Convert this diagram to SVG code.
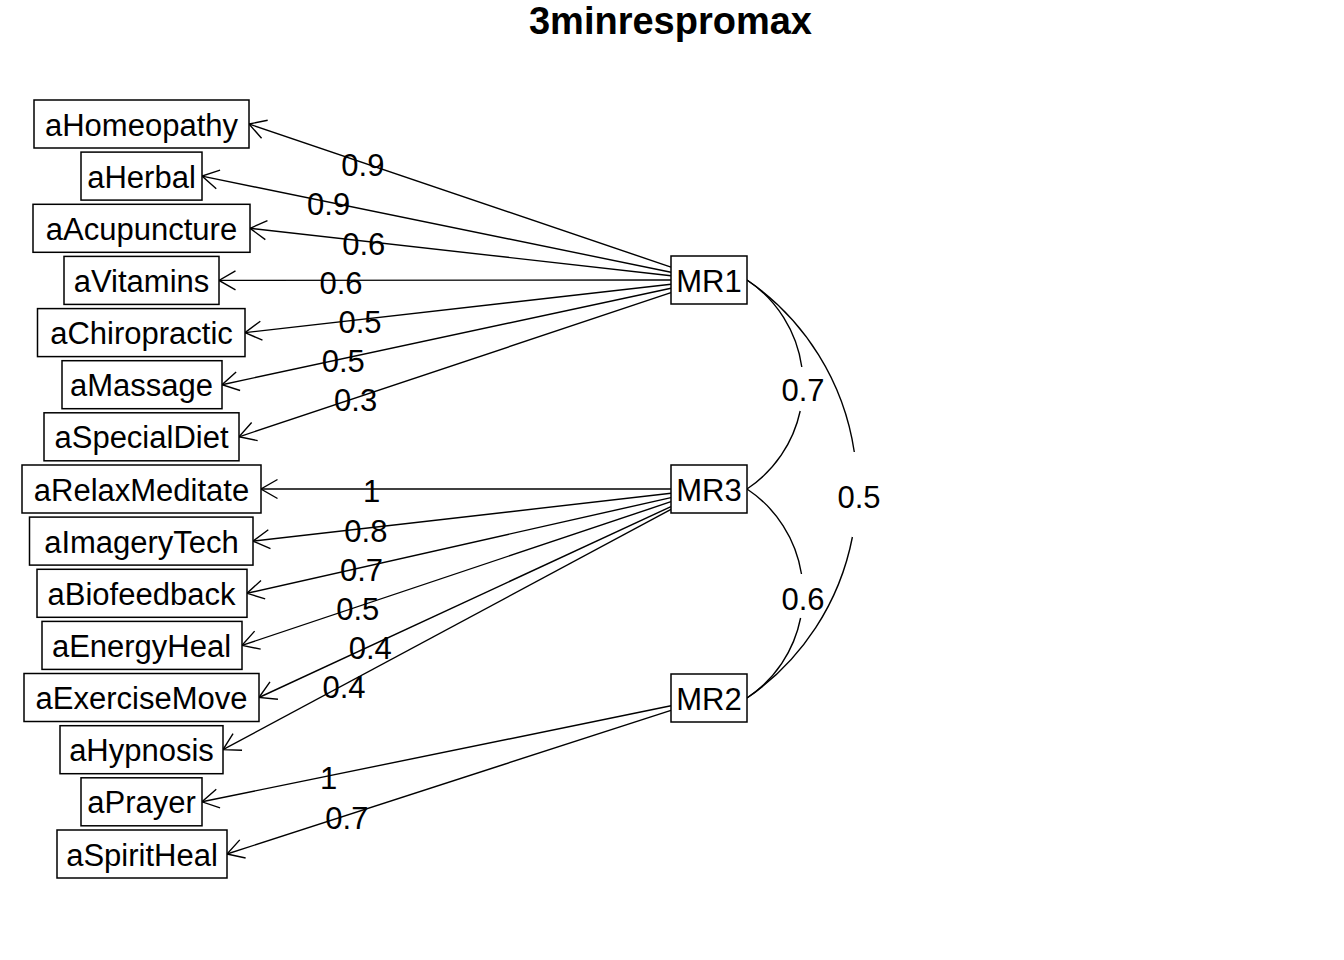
<svg xmlns="http://www.w3.org/2000/svg" width="1344" height="960" viewBox="0 0 1344 960">
<style>
text{font-family:"Liberation Sans",Arial,sans-serif;fill:#000}
.n{font-size:31px;text-anchor:middle}
.l{font-size:31px;text-anchor:middle}
.t{font-size:38px;font-weight:bold;text-anchor:middle}
rect{fill:#fff;stroke:#000;stroke-width:1.5}
.e line{stroke:#000;stroke-width:1.4;marker-end:url(#ah)}
.c path{fill:none;stroke:#000;stroke-width:1.4}
</style>
<defs>
<marker id="ah" viewBox="-20 -12 22 24" markerWidth="22" markerHeight="24" refX="0" refY="0" markerUnits="userSpaceOnUse" orient="auto">
<path d="M-16.5,-9.5 L0,0 L-16.5,9.5" fill="none" stroke="#000" stroke-width="1.4"/>
</marker>
</defs>
<rect x="0" y="0" width="1344" height="960" style="stroke:none"/>
<text class="t" x="670.5" y="34">3minrespromax</text>
<g id="edges" class="e">
<line x1="671" y1="267.1" x2="249" y2="124"/>
<line x1="671" y1="272.2" x2="202" y2="176.1"/>
<line x1="671" y1="275.7" x2="250" y2="228.3"/>
<line x1="671" y1="280" x2="219" y2="280.4"/>
<line x1="671" y1="284.3" x2="245" y2="332.6"/>
<line x1="671" y1="288.2" x2="222" y2="384.7"/>
<line x1="671" y1="292.7" x2="239" y2="436.8"/>
<line x1="671" y1="489" x2="261" y2="489"/>
<line x1="671" y1="493.3" x2="253" y2="541.1"/>
<line x1="671" y1="497.6" x2="247" y2="593.3"/>
<line x1="671" y1="501.7" x2="242" y2="645.4"/>
<line x1="671" y1="506.6" x2="259" y2="697.5"/>
<line x1="671" y1="509.4" x2="223" y2="749.7"/>
<line x1="671" y1="705.8" x2="202" y2="801.8"/>
<line x1="671" y1="710.3" x2="227" y2="854"/>
</g>
<g id="curves" class="c">
<path d="M747,280 A125.5,125.5 0 0 1 801.8,367 M800.2,411 A125.5,125.5 0 0 1 747,489"/>
<path d="M747,489 A125.5,125.5 0 0 1 801.5,574 M800.6,618 A125.5,125.5 0 0 1 747,698"/>
<path d="M747,280 A253.5,253.5 0 0 1 854.3,452 M852.4,537 A253.5,253.5 0 0 1 747,698"/>
</g>
<g id="labels">
<text class="l" x="362.9" y="176">0.9</text>
<text class="l" x="328.6" y="215.4">0.9</text>
<text class="l" x="363.7" y="254.5">0.6</text>
<text class="l" x="341" y="293.7">0.6</text>
<text class="l" x="360" y="333">0.5</text>
<text class="l" x="343.2" y="372">0.5</text>
<text class="l" x="355.6" y="411.3">0.3</text>
<text class="l" x="371.7" y="502.4">1</text>
<text class="l" x="365.9" y="541.6">0.8</text>
<text class="l" x="361.5" y="580.9">0.7</text>
<text class="l" x="357.8" y="620">0.5</text>
<text class="l" x="370.2" y="659.4">0.4</text>
<text class="l" x="344" y="698.2">0.4</text>
<text class="l" x="328.6" y="789.3">1</text>
<text class="l" x="346.9" y="828.6">0.7</text>
<text class="l" x="803" y="400.5">0.7</text>
<text class="l" x="803" y="609.5">0.6</text>
<text class="l" x="859" y="507.5">0.5</text>
</g>
<g id="n_aHomeopathy"><rect x="34" y="100" width="215" height="48"/><text class="n" x="141.5" y="135.5">aHomeopathy</text></g>
<g id="n_aHerbal"><rect x="81" y="152.1" width="121" height="48"/><text class="n" x="141.5" y="187.6">aHerbal</text></g>
<g id="n_aAcupuncture"><rect x="33" y="204.3" width="217" height="48"/><text class="n" x="141.5" y="239.8">aAcupuncture</text></g>
<g id="n_aVitamins"><rect x="64" y="256.4" width="155" height="48"/><text class="n" x="141.5" y="291.9">aVitamins</text></g>
<g id="n_aChiropractic"><rect x="37.5" y="308.6" width="207.5" height="48"/><text class="n" x="141.5" y="344.1">aChiropractic</text></g>
<g id="n_aMassage"><rect x="62" y="360.7" width="160" height="48"/><text class="n" x="141.5" y="396.2">aMassage</text></g>
<g id="n_aSpecialDiet"><rect x="44" y="412.8" width="195" height="48"/><text class="n" x="141.5" y="448.3">aSpecialDiet</text></g>
<g id="n_aRelaxMeditate"><rect x="22" y="465" width="239" height="48"/><text class="n" x="141.5" y="500.5">aRelaxMeditate</text></g>
<g id="n_aImageryTech"><rect x="29.5" y="517.1" width="223.5" height="48"/><text class="n" x="141.5" y="552.6">aImageryTech</text></g>
<g id="n_aBiofeedback"><rect x="37" y="569.3" width="210" height="48"/><text class="n" x="141.5" y="604.8">aBiofeedback</text></g>
<g id="n_aEnergyHeal"><rect x="42" y="621.4" width="200" height="48"/><text class="n" x="141.5" y="656.9">aEnergyHeal</text></g>
<g id="n_aExerciseMove"><rect x="24" y="673.5" width="235" height="48"/><text class="n" x="141.5" y="709">aExerciseMove</text></g>
<g id="n_aHypnosis"><rect x="60" y="725.7" width="163" height="48"/><text class="n" x="141.5" y="761.2">aHypnosis</text></g>
<g id="n_aPrayer"><rect x="81" y="777.8" width="121" height="48"/><text class="n" x="141.5" y="813.3">aPrayer</text></g>
<g id="n_aSpiritHeal"><rect x="57" y="830" width="170" height="48"/><text class="n" x="142" y="865.5">aSpiritHeal</text></g>
<g id="n_MR1"><rect x="671" y="256" width="76" height="48"/><text class="n" x="709" y="292">MR1</text></g>
<g id="n_MR3"><rect x="671" y="465" width="76" height="48"/><text class="n" x="709" y="501">MR3</text></g>
<g id="n_MR2"><rect x="671" y="674" width="76" height="48"/><text class="n" x="709" y="710">MR2</text></g>
</svg>
